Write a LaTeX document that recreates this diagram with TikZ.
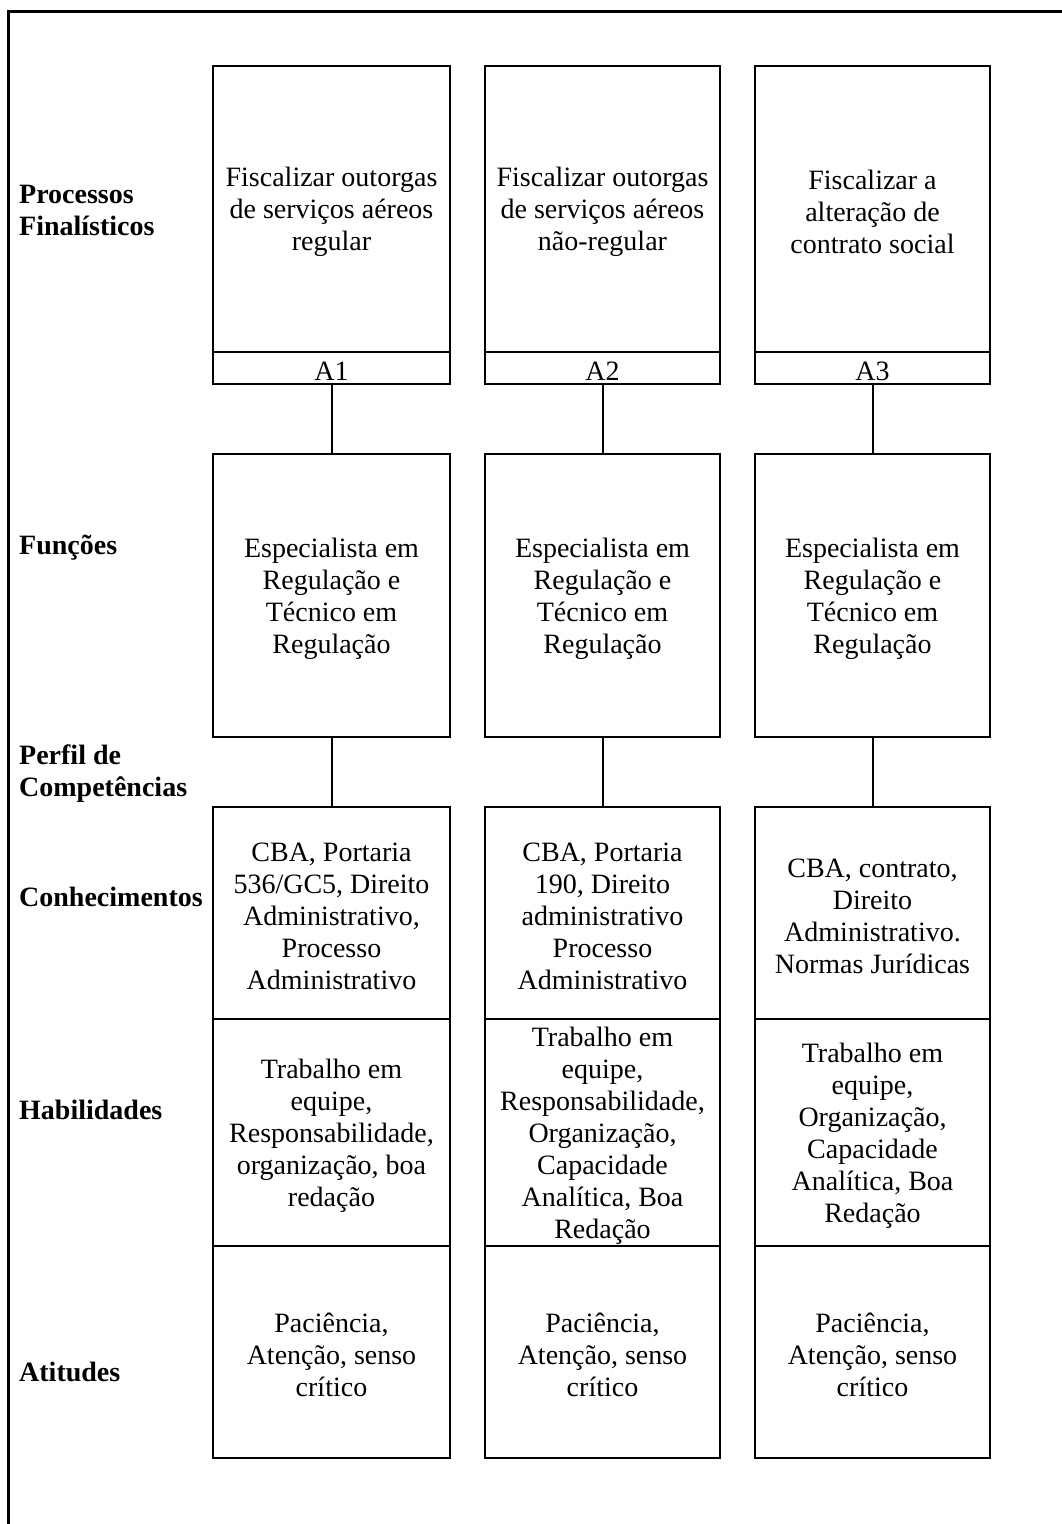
\documentclass[tikz,border=0pt]{standalone}
\usepackage{fontspec}
\setmainfont{Liberation Serif}
\begin{document}
\begin{tikzpicture}[x=1pt,y=-1pt,
  cell/.style={draw, line width=2pt, rectangle, inner sep=0pt},
  celltext/.style={inner sep=0pt, align=center,
    font=\fontsize{28}{32}\selectfont},
  rowlabel/.style={anchor=west, align=left, inner sep=0pt,
    font=\fontsize{28}{32}\selectfont\bfseries},
  link/.style={line width=2pt}]
% cell: name, left, right, top, bottom, text
\newcommand\mkcell[6]{%
  \node[cell, minimum width={(#3-#2)*1pt}, minimum height={(#5-#4)*1pt}]
    (#1) at ({(#2+#3)/2},{(#4+#5)/2}) {};
  \node[celltext] (#1t) at ([yshift=-3pt]#1.center) {#6};}
\useasboundingbox (0,0) rectangle (1062,1524);
% page frame
\draw[line width=3pt] (8,1524) -- (8,11) -- (1062,11);

% row labels
\node[rowlabel] (lproc) at (19,210) {Processos\\Finalísticos};
\node[rowlabel] (lfunc) at (19,548) {Funções};
\node[rowlabel] (lperf) at (19,774) {Perfil de\\Competências};
\node[rowlabel] (lcon)  at (19,897) {Conhecimentos};
\node[rowlabel] (lhab)  at (19,1110) {Habilidades};
\node[rowlabel] (latt)  at (19,1372) {Atitudes};

% column 1
\mkcell{p1}{213}{450}{66}{352}{Fiscalizar outorgas\\de serviços aéreos\\regular}
\mkcell{a1}{213}{450}{352}{384}{A1}
\mkcell{f1}{213}{450}{454}{737}{Especialista em\\Regulação e\\Técnico em\\Regulação}
\mkcell{c1}{213}{450}{807}{1019}{CBA, Portaria\\536/GC5, Direito\\Administrativo,\\Processo\\Administrativo}
\mkcell{h1}{213}{450}{1019}{1246}{Trabalho em\\equipe,\\Responsabilidade,\\organização, boa\\redação}
\mkcell{t1}{213}{450}{1246}{1458}{Paciência,\\Atenção, senso\\crítico}

% column 2
\mkcell{p2}{485}{720}{66}{352}{Fiscalizar outorgas\\de serviços aéreos\\não-regular}
\mkcell{a2}{485}{720}{352}{384}{A2}
\mkcell{f2}{485}{720}{454}{737}{Especialista em\\Regulação e\\Técnico em\\Regulação}
\mkcell{c2}{485}{720}{807}{1019}{CBA, Portaria\\190, Direito\\administrativo\\Processo\\Administrativo}
\mkcell{h2}{485}{720}{1019}{1246}{Trabalho em\\equipe,\\Responsabilidade,\\Organização,\\Capacidade\\Analítica, Boa\\Redação}
\mkcell{t2}{485}{720}{1246}{1458}{Paciência,\\Atenção, senso\\crítico}

% column 3
\mkcell{p3}{755}{990}{66}{352}{Fiscalizar a\\alteração de\\contrato social}
\mkcell{a3}{755}{990}{352}{384}{A3}
\mkcell{f3}{755}{990}{454}{737}{Especialista em\\Regulação e\\Técnico em\\Regulação}
\mkcell{c3}{755}{990}{807}{1019}{CBA, contrato,\\Direito\\Administrativo.\\Normas Jurídicas}
\mkcell{h3}{755}{990}{1019}{1246}{Trabalho em\\equipe,\\Organização,\\Capacidade\\Analítica, Boa\\Redação}
\mkcell{t3}{755}{990}{1246}{1458}{Paciência,\\Atenção, senso\\crítico}

% connectors
\foreach \i in {1,2,3} {
  \draw[link] (a\i.south) -- (f\i.north);
  \draw[link] (f\i.south) -- (c\i.north);
}
\end{tikzpicture}
\end{document}
